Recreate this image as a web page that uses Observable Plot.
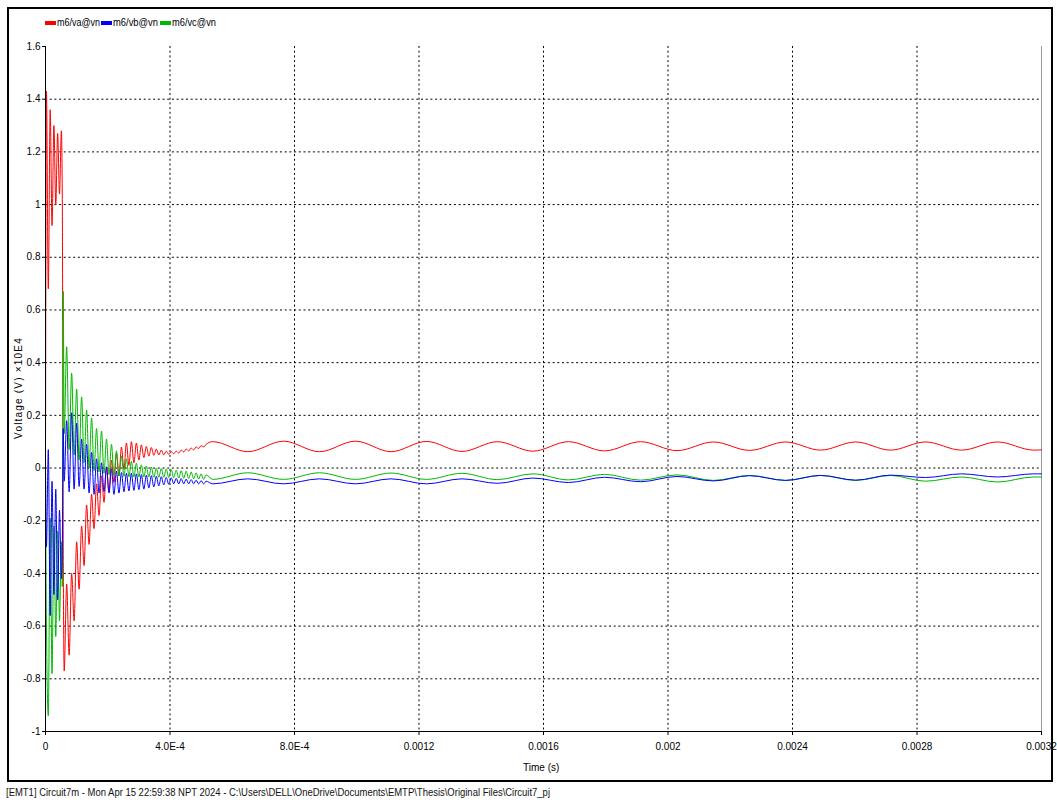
<!DOCTYPE html>
<html>
<head>
<meta charset="utf-8">
<script src="https://cdn.jsdelivr.net/npm/d3@7"></script>
<script src="https://cdn.jsdelivr.net/npm/@observablehq/plot@0.6"></script>
<style>
  html, body { margin: 0; padding: 0; background: #fff; }
  #wrap { position: relative; width: 1057px; height: 802px; overflow: hidden; background: #fff;
          font-family: "Liberation Sans", Arial, sans-serif; color: #000; }
  #frame { position: absolute; left: 7px; top: 7px; width: 1046px; height: 775px;
           border: 2px solid #000; box-sizing: border-box; }
  #chart { position: absolute; left: 0; top: 0; }
  .lg-sw { position: absolute; top: 21px; width: 11px; height: 4px; }
  .lg-tx, .free { position: absolute; font-size: 10px; line-height: 12px; white-space: nowrap; transform-origin: 0 0; }
</style>
</head>
<body>
<div id="wrap">
  <div id="frame"></div>
  <div id="chart"></div>
</div>
<script>
// ---------- data ----------
const seriesNames  = ["m6/va@vn", "m6/vb@vn", "m6/vc@vn"];
const seriesColors = ["#ff0000", "#0000ff", "#00b800"];

// sample times (microseconds)
const timeUs = [
  0, 3, 9, 15, 21, 27, 33, 39, 45, 51, 54, 57,
  60, 68, 76, 84, 92, 100, 108, 116, 124, 132,
  140, 148, 156, 164, 172, 180, 188, 196, 204, 212,
  220, 228, 236, 244, 252, 260, 268, 276, 284, 292,
  300, 308, 316, 324, 332, 340, 348, 356, 364, 372,
  380, 388, 396, 404, 412, 420, 428, 436, 444, 452,
  460, 468, 476, 484, 492, 500, 508, 516,
  537, 650, 765, 880, 996, 1110, 1224, 1338, 1452, 1566,
  1680, 1796, 1912, 2029, 2146, 2262, 2378, 2490, 2603, 2715,
  2827, 2943, 3059, 3175, 3200
];

// voltages (x10E4 V)
const va = [
  0.02, 1.43, 0.68, 1.36, 0.92, 1.30, 1.00, 1.27, 1.04, 1.28, 1.02, -0.30,
  -0.77, -0.44, -0.71, -0.40, -0.58, -0.28, -0.46, -0.22, -0.37, -0.14,
  -0.29, -0.10, -0.23, -0.06, -0.18, -0.03, -0.13, 0.00, -0.09, 0.03,
  -0.055, 0.055, -0.03, 0.08, -0.005, 0.095, 0.01, 0.10, 0.02, 0.095,
  0.03, 0.088, 0.04, 0.082, 0.045, 0.078, 0.048, 0.072, 0.05, 0.068,
  0.05, 0.064, 0.052, 0.062, 0.054, 0.064, 0.057, 0.068, 0.061, 0.072,
  0.065, 0.076, 0.069, 0.08, 0.074, 0.085, 0.08, 0.09,
  0.100, 0.062, 0.102, 0.062, 0.102, 0.062, 0.101, 0.063, 0.100, 0.064,
  0.100, 0.065, 0.100, 0.066, 0.099, 0.067, 0.099, 0.068, 0.099, 0.068,
  0.099, 0.068, 0.099, 0.068, 0.069
];
const vb = [
  0, -0.30, 0.07, -0.56, -0.05, -0.48, -0.08, -0.50, -0.16, -0.42, -0.30, 0.15,
  -0.05, 0.18, -0.09, 0.21, -0.08, 0.17, -0.07, 0.11, -0.08, 0.09,
  -0.095, 0.06, -0.10, 0.035, -0.095, 0.02, -0.09, 0.005, -0.095, -0.005,
  -0.10, -0.012, -0.095, -0.017, -0.09, -0.02, -0.087, -0.02, -0.085, -0.022,
  -0.082, -0.025, -0.08, -0.027, -0.076, -0.029, -0.072, -0.031, -0.068, -0.033,
  -0.064, -0.035, -0.062, -0.037, -0.06, -0.039, -0.06, -0.04, -0.06, -0.042,
  -0.06, -0.044, -0.06, -0.046, -0.06, -0.048, -0.06, -0.05,
  -0.060, -0.041, -0.060, -0.041, -0.060, -0.041, -0.060, -0.041, -0.058, -0.038,
  -0.055, -0.035, -0.052, -0.032, -0.049, -0.029, -0.047, -0.028, -0.046, -0.027,
  -0.036, -0.022, -0.034, -0.022, -0.022
];
const vc = [
  0, -0.60, -0.94, -0.19, -0.78, -0.22, -0.64, -0.24, -0.58, -0.28, -0.45, 0.67,
  0.13, 0.46, 0.07, 0.36, 0.05, 0.30, 0.03, 0.27, 0.02, 0.22,
  0.00, 0.19, -0.01, 0.15, -0.015, 0.14, -0.02, 0.11, -0.025, 0.09,
  -0.028, 0.065, -0.03, 0.045, -0.032, 0.035, -0.033, 0.025, -0.034, 0.018,
  -0.034, 0.012, -0.034, 0.008, -0.034, 0.004, -0.035, 0.0, -0.035, -0.002,
  -0.035, -0.004, -0.036, -0.006, -0.037, -0.008, -0.038, -0.01, -0.039, -0.012,
  -0.04, -0.015, -0.041, -0.018, -0.042, -0.022, -0.043, -0.026,
  -0.043, -0.018, -0.043, -0.018, -0.043, -0.019, -0.043, -0.020, -0.044, -0.022,
  -0.045, -0.024, -0.046, -0.026, -0.047, -0.028, -0.047, -0.028, -0.047, -0.028,
  -0.050, -0.034, -0.053, -0.034, -0.034
];

const xTicks      = [0, 0.0004, 0.0008, 0.0012, 0.0016, 0.002, 0.0024, 0.0028, 0.0032];
const xTickLabels = ["0", "4.0E-4", "8.0E-4", "0.0012", "0.0016", "0.002", "0.0024", "0.0028", "0.0032"];
const yTicks      = [-1, -0.8, -0.6, -0.4, -0.2, 0, 0.2, 0.4, 0.6, 0.8, 1, 1.2, 1.4, 1.6];
const yTickLabels = ["-1", "-0.8", "-0.6", "-0.4", "-0.2", "0", "0.2", "0.4", "0.6", "0.8", "1", "1.2", "1.4", "1.6"];

const xLabel  = "Time (s)";
const yLabel  = "Voltage (V) \u00d710E4";
const caption = "[EMT1] Circuit7m - Mon Apr 15 22:59:38 NPT 2024 - C:\\Users\\DELL\\OneDrive\\Documents\\EMTP\\Thesis\\Original Files\\Circuit7_pj";

// ---------- chart ----------
const toRows = vals => timeUs.map((t, i) => ({t: t * 1e-6, v: vals[i]}));
const allSeries = [va, vb, vc];
const xDomain = [xTicks[0], xTicks[xTicks.length - 1]];
const yDomain = [yTicks[0], yTicks[yTicks.length - 1]];
const dotted = {stroke: "#000", strokeOpacity: 1, strokeWidth: 1, strokeDasharray: "2,2.7"};

const chart = Plot.plot({
  width: 1057,
  height: 782,
  marginLeft: 45,
  marginRight: 16,
  marginTop: 46,
  marginBottom: 51,
  style: {fontFamily: '"Liberation Sans", Arial, sans-serif', fontSize: "10px", color: "#000", background: "transparent", overflow: "visible"},
  x: {domain: xDomain, ticks: xTicks, tickFormat: d => xTickLabels[xTicks.indexOf(d)], tickSize: 4, tickPadding: 7, label: null},
  y: {domain: yDomain, ticks: yTicks, tickFormat: d => yTickLabels[yTicks.indexOf(d)], tickSize: 3, tickPadding: 2, label: null},
  marks: [
    Plot.gridX(xTicks.slice(1, -1), dotted),
    Plot.gridY(yTicks.slice(1, -1), dotted),
    Plot.ruleX([xDomain[1]], {stroke: "#9a9a9a", strokeWidth: 1}),
    ...[0, 2, 1].map(k => Plot.line(toRows(allSeries[k]), {
      x: "t", y: "v", stroke: seriesColors[k], strokeWidth: 1, curve: "monotone-x"
    })),
    Plot.ruleX([xDomain[0]], {stroke: "#000", strokeWidth: 1}),
    Plot.ruleY([yDomain[0]], {stroke: "#000", strokeWidth: 1})
  ]
});
document.getElementById("chart").appendChild(chart);

// ---------- legend, labels, caption ----------
const wrap = document.getElementById("wrap");
function addText(txt, left, top, cls) {
  const el = document.createElement("div");
  el.className = cls || "free";
  el.textContent = txt;
  el.style.left = left + "px";
  el.style.top = top + "px";
  wrap.appendChild(el);
  return el;
}
function fitWidth(el, target) {
  const w = el.getBoundingClientRect().width;
  if (w > 0) el.style.transform = "scaleX(" + (target / w) + ")";
}

const legendSwatchX = [45, 101, 160];
const legendTextW = [43, 45, 44];
seriesNames.forEach((name, k) => {
  const sw = document.createElement("div");
  sw.className = "lg-sw";
  sw.style.left = legendSwatchX[k] + "px";
  sw.style.background = seriesColors[k];
  wrap.appendChild(sw);
  const tx = addText(name, legendSwatchX[k] + 12, 17, "lg-tx");
  fitWidth(tx, legendTextW[k]);
});

addText(xLabel, 523, 762);

const cap = addText(caption, 6, 787);
cap.style.color = "#111";
fitWidth(cap, 544);

// rotated y label
const yl = addText(yLabel, 0, 0);
yl.style.letterSpacing = "1.2px";
const r = yl.getBoundingClientRect();
const cx = 19, cy = 388;
yl.style.left = (cx - r.width / 2) + "px";
yl.style.top = (cy - r.height / 2) + "px";
yl.style.transformOrigin = "50% 50%";
yl.style.transform = "rotate(-90deg)";
</script>
</body>
</html>
